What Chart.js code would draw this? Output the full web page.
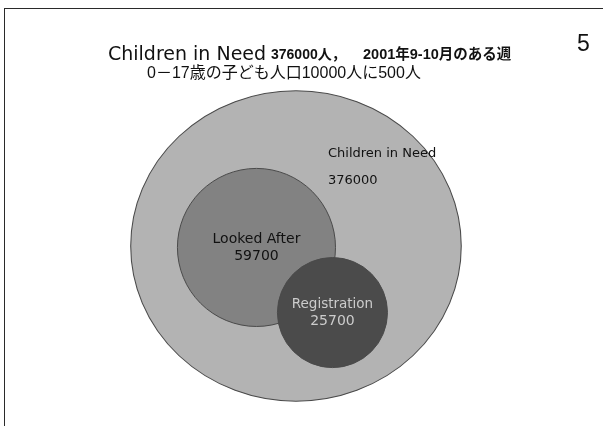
<!DOCTYPE html>
<html lang="ja">
<head>
<meta charset="utf-8">
<title>Children in Need</title>
<script src="https://cdn.jsdelivr.net/npm/chart.js"></script>
<style>
  html, body { margin: 0; padding: 0; background: #fff; }
  #slide { position: relative; width: 603px; height: 426px; overflow: hidden; }
  #venn { position: absolute; left: 0; top: 0; }
  #frame { position: absolute; left: 4px; top: 8px; width: 620px; height: 440px;
           border-top: 1.5px solid #2a2a2a; border-left: 1.5px solid #2a2a2a; }
  .t { position: absolute; white-space: nowrap; line-height: 1; color: #111; }
  .cjk { font-family: "Liberation Sans", "Noto Sans CJK JP", sans-serif; }
</style>
</head>
<body>
<div id="slide">
  <canvas id="venn" width="603" height="426"></canvas>
  <div id="frame"></div>
  <div class="t" style="left:108px; top:44px; font-family:'DejaVu Sans', sans-serif; font-size:19px;">Children in Need</div>
  <div class="t cjk" style="left:271px; top:47px; font-size:14px; font-weight:bold;">376000人，</div>
  <div class="t cjk" style="left:363px; top:47px; font-size:14.5px; font-weight:bold;">2001年9-10月のある週</div>
  <div class="t cjk" style="left:147px; top:65px; font-size:16px;">0－17歳の子ども人口10000人に500人</div>
  <div class="t" style="left:577px; top:32px; font-family:'Liberation Sans', sans-serif; font-size:23px;">5</div>
</div>

<script>
  // sets of the diagram (outer to inner)
  const setNames = ['Children in Need', 'Looked After', 'Registration'];
  const setValues = [376000, 59700, 25700];
  // circle layout in diagram units
  const circleX = [0, -24.7, 22.8];
  const circleY = [0, -0.9, -41.6];
  const circleR = [97, 49.4, 34.4];
  const circleAspect = [1.065, 1, 1];   // outer shape is a little wider than tall

  const fillColors = ['#b3b3b3', '#828282', '#4b4b4b'];
  const textColors = ['#111111', '#111111', '#cccccc'];

  const labelFont = "'DejaVu Sans', sans-serif";

  // radius in pixels for a radius given in x-axis units
  // (uses the fixed axis range, so it also works before the layout is done)
  function pxRadius(chart, r) {
    const sx = chart.options.scales.x;
    return r * chart.width / (sx.max - sx.min);
  }

  const vennShape = {
    id: 'vennShape',
    beforeDatasetDraw(chart, args) {
      const k = circleAspect[args.index];
      if (k === 1) return;
      const { ctx, scales: { x } } = chart;
      const cx = x.getPixelForValue(circleX[args.index]);
      ctx.save();
      ctx.translate(cx, 0);
      ctx.scale(k, 1);
      ctx.translate(-cx, 0);
    },
    afterDatasetDraw(chart, args) {
      if (circleAspect[args.index] !== 1) chart.ctx.restore();
    }
  };

  const vennLabels = {
    id: 'vennLabels',
    afterDatasetsDraw(chart) {
      const { ctx, scales: { x, y } } = chart;
      ctx.save();
      ctx.textBaseline = 'middle';
      setNames.forEach((name, i) => {
        ctx.fillStyle = textColors[i];
        if (i === 0) {
          // outer set label sits in the free top-right area
          const lx = x.getPixelForValue(circleX[i] + 20);
          ctx.textAlign = 'left';
          ctx.font = '13px ' + labelFont;
          ctx.fillText(name, lx, y.getPixelForValue(circleY[i] + 57.5));
          ctx.fillText(String(setValues[i]), lx, y.getPixelForValue(circleY[i] + 41));
        } else {
          const cx = x.getPixelForValue(circleX[i]);
          const cy = y.getPixelForValue(circleY[i]);
          ctx.textAlign = 'center';
          ctx.font = (i === 1 ? '14px ' : '13.5px ') + labelFont;
          ctx.fillText(name, cx, cy - 8);
          ctx.font = '14px ' + labelFont;
          ctx.fillText(String(setValues[i]), cx, cy + 9);
        }
      });
      ctx.restore();
    }
  };

  new Chart(document.getElementById('venn'), {
    type: 'bubble',
    data: {
      datasets: setNames.map((name, i) => ({
        label: name,
        order: setNames.length - i,   // outer circle drawn first
        data: [{ x: circleX[i], y: circleY[i] }],
        backgroundColor: fillColors[i],
        borderColor: '#4a4a4a',
        borderWidth: 1,
        clip: false,
        radius: ctx => pxRadius(ctx.chart, circleR[ctx.datasetIndex])
      }))
    },
    options: {
      responsive: false,
      animation: false,
      events: [],
      layout: { padding: 0, autoPadding: false },
      scales: {
        x: { type: 'linear', display: false, min: -185, max: 191.9 },
        y: { type: 'linear', display: false, min: -112.5, max: 153.75 }
      },
      plugins: {
        legend: { display: false },
        tooltip: { enabled: false }
      }
    },
    plugins: [vennShape, vennLabels]
  });
</script>
</body>
</html>
